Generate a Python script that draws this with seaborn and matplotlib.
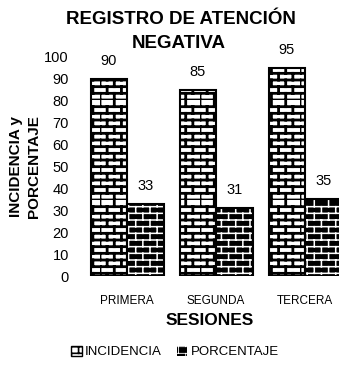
import warnings
warnings.filterwarnings("ignore")
import numpy as np
import pandas as pd
import matplotlib
matplotlib.use("Agg")
import matplotlib.pyplot as plt
import matplotlib.hatch as mhatch
from matplotlib.path import Path
from matplotlib.patches import Rectangle, Patch
import seaborn as sns

# ---- data ----
sesiones = ["PRIMERA", "SEGUNDA", "TERCERA"]
incidencia = [90, 85, 95]
porcentaje = [33, 31, 35]
series = ["INCIDENCIA", "PORCENTAJE"]
yticks = [0, 10, 20, 30, 40, 50, 60, 70, 80, 90, 100]


# ---- custom brick hatch ('b') ----
class BrickHatch(mhatch.HatchPatternBase):
    def __init__(self, hatch, density):
        n = hatch.count('b')
        self.rows = 15 * n
        self.cols = 7 * n
        if n:
            self.num_vertices = self.rows * 2 + self.rows * self.cols * 2
        else:
            self.num_vertices = 0

    def set_vertices_and_codes(self, vertices, codes):
        h = 1.0 / self.rows
        w = 1.0 / self.cols
        idx = 0
        for i in range(self.rows):
            y = i * h
            vertices[idx] = (0.0, y)
            vertices[idx + 1] = (1.0, y)
            idx += 2
            off = 0.0 if i % 2 == 0 else w / 2
            for k in range(self.cols):
                x = k * w + off
                vertices[idx] = (x, y)
                vertices[idx + 1] = (x, y + h)
                idx += 2
        codes[0::2] = Path.MOVETO
        codes[1::2] = Path.LINETO


mhatch._hatch_types.append(BrickHatch)


def set_hlw(p, lw):
    try:
        p.set_hatch_linewidth(lw)
    except Exception:
        p._hatch_linewidth = lw


sns.set_theme(style="white")
plt.rcParams['font.family'] = ['Liberation Sans', 'DejaVu Sans']
plt.rcParams['text.color'] = 'black'
plt.rcParams['axes.labelcolor'] = 'black'
plt.rcParams['xtick.color'] = 'black'
plt.rcParams['ytick.color'] = 'black'
plt.rcParams['hatch.linewidth'] = 1.6

df = pd.DataFrame({
    "Sesion": sesiones * 2,
    "Serie": [series[0]] * 3 + [series[1]] * 3,
    "Valor": incidencia + porcentaje,
})

fig = plt.figure(figsize=(3.39, 3.67), dpi=100)
ax = fig.add_axes([80 / 339, (367 - 276) / 367, 1 - 80 / 339, 219 / 367])

sns.barplot(data=df, x="Sesion", y="Valor", hue="Serie", ax=ax,
            palette=["white", "black"], width=0.82, legend=False,
            saturation=1)

inc_c, por_c = ax.containers[0], ax.containers[1]
for b in inc_c:
    b.set_facecolor("white")
    b.set_edgecolor("black")
    b.set_linewidth(1.5)
    b.set_hatch("b")
    set_hlw(b, 2.0)
for b in por_c:
    b.set_facecolor("black")
    b.set_edgecolor("white")
    b.set_linewidth(0)
    b.set_hatch("b")
    set_hlw(b, 1.1)
    ax.add_patch(Rectangle(b.get_xy(), b.get_width(), b.get_height(),
                           fill=False, edgecolor="black", linewidth=1.5))

for c in (inc_c, por_c):
    ax.bar_label(c, padding=8, fontsize=10.5, color="black")

ax.set_ylim(0, 100)
ax.set_xlim(-0.53, 2.38)
ax.set_yticks(yticks)
ax.set_yticklabels([str(v) for v in yticks], fontsize=10.5)
ax.tick_params(axis="both", length=0, pad=8)
ax.tick_params(axis="x", pad=14, labelsize=8.5)
for s in ax.spines.values():
    s.set_visible(False)

ax.set_xlabel("SESIONES", fontsize=12.5, fontweight="bold", labelpad=4)
ax.set_ylabel("INCIDENCIA y\nPORCENTAJE", fontsize=11, fontweight="bold",
              linespacing=1.45, labelpad=2)

fig.text(181 / 339, 1 - 20 / 367, "REGISTRO DE ATENCIÓN",
         ha="center", va="center", fontsize=13.5, fontweight="bold")
fig.text(179 / 339, 1 - 44 / 367, "NEGATIVA",
         ha="center", va="center", fontsize=13.5, fontweight="bold")

handles = [Patch(facecolor="white", edgecolor="black", hatch="b", linewidth=1),
           Patch(facecolor="black", edgecolor="white", hatch="b", linewidth=0)]
leg = fig.legend(handles=handles, labels=series, loc="center",
                 bbox_to_anchor=(175 / 339, 1 - 352 / 367), ncol=2,
                 frameon=False, prop={'size': 9.5},
                 handlelength=0.8, handleheight=0.8, handletextpad=0.25,
                 columnspacing=1.1, borderpad=0)
lh = leg.legend_handles
set_hlw(lh[0], 1.2)
set_hlw(lh[1], 0.6)

fig.savefig("out.png", dpi=100)
